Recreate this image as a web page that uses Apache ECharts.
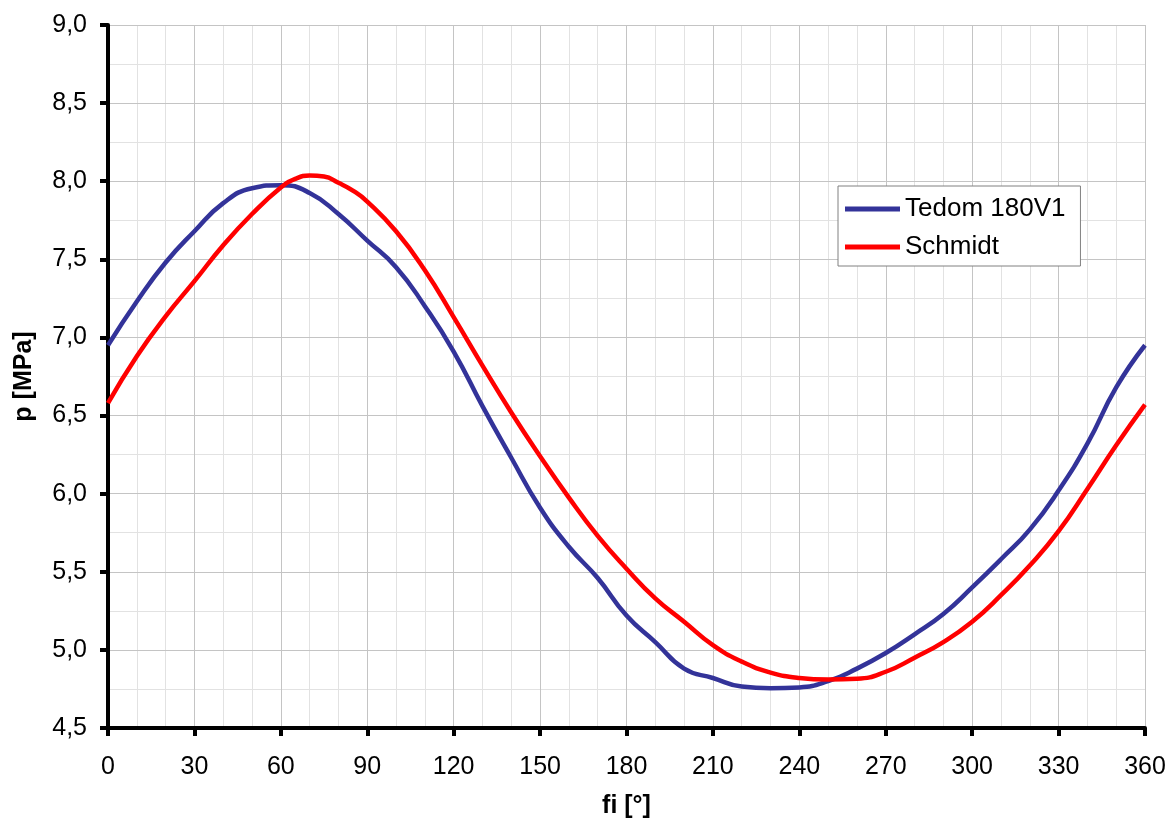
<!DOCTYPE html>
<html>
<head>
<meta charset="utf-8">
<script src="https://cdn.jsdelivr.net/npm/echarts@6/dist/echarts.min.js"></script>
<style>html,body{margin:0;padding:0;background:#fff}#c{width:1169px;height:818px}</style>
</head>
<body>
<div id="c"></div>
<script>
const angles = [0,10,20,30,40,50,60,70,80,90,100,110,120,130,140,150,160,170,180,190,200,210,220,230,240,250,260,270,280,290,300,310,320,330,340,350,360];
const tedom = [6.95,7.23,7.48,7.68,7.86,7.955,7.975,7.925,7.79,7.62,7.45,7.20,6.91,6.56,6.23,5.91,5.66,5.46,5.22,5.05,4.88,4.82,4.765,4.755,4.76,4.80,4.88,4.98,5.10,5.23,5.40,5.58,5.77,6.02,6.32,6.68,6.95];
const schmidtAngles = [0,10,20,30,40,50,60,65,70,75,80,85,90,100,110,120,130,140,150,160,170,180,190,200,210,220,230,240,250,260,270,280,290,300,310,320,330,340,350,360];
const schmidt = [6.58,6.88,7.135,7.36,7.59,7.79,7.96,8.015,8.036,8.03,7.99,7.94,7.87,7.68,7.43,7.13,6.82,6.52,6.24,5.975,5.73,5.52,5.33,5.18,5.03,4.925,4.855,4.82,4.81,4.815,4.86,4.95,5.05,5.18,5.35,5.54,5.76,6.03,6.31,6.57];
const seriesNames = ['Tedom 180V1','Schmidt'];
const xName = 'fi [°]';
const yName = 'p [MPa]';

const chart = echarts.init(document.getElementById('c'), null, {renderer:'canvas'});
const font = 'Liberation Sans, Arial, sans-serif';
const hidden = {axisLine:{show:false},axisTick:{show:false},axisLabel:{show:false}};
chart.setOption({
  animation:false,
  backgroundColor:'#fff',
  grid:{left:108,right:24,top:25,bottom:90,containLabel:false,outerBoundsMode:'none'},
  legend:{
    orient:'vertical', left:838, top:186,
    backgroundColor:'#fff', borderColor:'#808080', borderWidth:1,
    padding:[10,15,6,7], itemGap:12, itemWidth:55, itemHeight:5, icon:'rect',
    textStyle:{fontFamily:font,fontSize:26,lineHeight:26,color:'#000'},
    data:seriesNames
  },
  xAxis:[{
    type:'value', min:0, max:360, interval:30, z:1,
    name:xName, nameLocation:'middle', nameGap:66,
    nameTextStyle:{fontFamily:font,fontSize:25,fontWeight:'bold',color:'#000'},
    axisLine:{show:true,onZero:false,lineStyle:{color:'#000',width:4}},
    axisTick:{show:true,length:8,lineStyle:{color:'#000',width:4}},
    axisLabel:{margin:27,fontFamily:font,fontSize:25,color:'#000'},
    splitLine:{show:true,lineStyle:{color:'#c4c4c4',width:1}}
  },{
    type:'value', min:0, max:360, interval:10, z:0, ...hidden,
    splitLine:{show:true,lineStyle:{color:'#e2e2e2',width:1}}
  }],
  yAxis:[{
    type:'value', min:4.5, max:9, interval:0.5, z:1,
    name:yName, nameLocation:'middle', nameGap:71,
    nameTextStyle:{fontFamily:font,fontSize:25,fontWeight:'bold',color:'#000'},
    axisLine:{show:true,onZero:false,lineStyle:{color:'#000',width:4}},
    axisTick:{show:true,length:8,lineStyle:{color:'#000',width:4}},
    axisLabel:{margin:21,fontFamily:font,fontSize:25,color:'#000',formatter:v=>v.toFixed(1).replace('.',',')},
    splitLine:{show:true,lineStyle:{color:'#c4c4c4',width:1}}
  },{
    type:'value', min:4.5, max:9, interval:0.25, z:0, ...hidden,
    splitLine:{show:true,lineStyle:{color:'#e2e2e2',width:1}}
  }],
  series:[
    {name:seriesNames[0],type:'line',smooth:0.5,symbol:'none',
     data:angles.map((a,i)=>[a,tedom[i]]),
     lineStyle:{color:'#333399',width:4.5},itemStyle:{color:'#333399'},z:2},
    {name:seriesNames[1],type:'line',smooth:0.5,symbol:'none',
     data:schmidtAngles.map((a,i)=>[a,schmidt[i]]),
     lineStyle:{color:'#ff0000',width:4.5},itemStyle:{color:'#ff0000'},z:3}
  ]
});
</script>
</body>
</html>
